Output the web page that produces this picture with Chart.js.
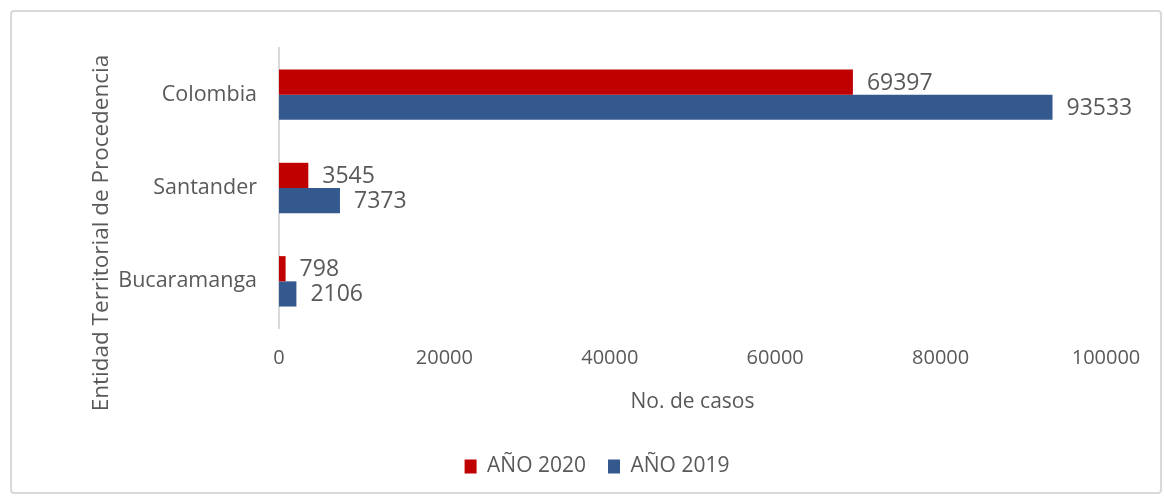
<!DOCTYPE html>
<html>
<head>
<meta charset="utf-8">
<script src="https://cdn.jsdelivr.net/npm/chart.js@4/dist/chart.umd.min.js"></script>
<style>
  html, body { margin: 0; padding: 0; background: #fff; }
  #wrap { position: relative; width: 1164px; height: 496px; }
  #frame { position: absolute; left: 10px; top: 10px; width: 1148px; height: 480px;
           border: 2px solid #d9d9d9; border-radius: 4px; pointer-events: none; }
  canvas { position: absolute; left: 0; top: 0; }
</style>
</head>
<body>
<div id="wrap">
  <canvas id="c" width="1164" height="496"></canvas>
  <div id="frame"></div>
</div>
<script>
const categories = ["Colombia", "Santander", "Bucaramanga"];
const year2020 = [69397, 3545, 798];
const year2019 = [93533, 7373, 2106];
const seriesNames = ["AÑO 2020", "AÑO 2019"];
const xTicks = [0, 20000, 40000, 60000, 80000, 100000];
const xTitle = "No. de casos";
const yTitle = "Entidad Territorial de Procedencia";

const FONT = "'Open Sans', sans-serif";
const GREY = "#595959";

const valueLabels = {
  id: "valueLabels",
  afterDatasetsDraw(chart) {
    const ctx = chart.ctx;
    ctx.save();
    ctx.font = "23px " + FONT;
    ctx.fillStyle = GREY;
    ctx.textAlign = "left";
    ctx.textBaseline = "middle";
    chart.data.datasets.forEach((ds, i) => {
      const meta = chart.getDatasetMeta(i);
      meta.data.forEach((bar, j) => {
        ctx.fillText(String(ds.data[j]), bar.x + 14, bar.y + 1);
      });
    });
    ctx.restore();
  }
};

const yAxisTitle = {
  id: "yAxisTitle",
  afterDraw(chart) {
    const ctx = chart.ctx;
    ctx.save();
    ctx.translate(102, 233);
    ctx.rotate(-Math.PI / 2);
    ctx.font = "22.5px " + FONT;
    ctx.fillStyle = GREY;
    ctx.textAlign = "center";
    ctx.textBaseline = "middle";
    ctx.fillText(yTitle, 0, 0);
    ctx.restore();
  }
};

new Chart(document.getElementById("c"), {
  type: "bar",
  data: {
    labels: categories,
    datasets: [
      { label: seriesNames[0], data: year2020, backgroundColor: "#C00000",
        categoryPercentage: 0.54, barPercentage: 1.0 },
      { label: seriesNames[1], data: year2019, backgroundColor: "#34598F",
        categoryPercentage: 0.54, barPercentage: 1.0 }
    ]
  },
  options: {
    indexAxis: "y",
    responsive: false,
    animation: false,
    layout: { padding: { left: 88, right: 58, top: 48, bottom: 9 } },
    scales: {
      x: {
        min: 0, max: 100000,
        afterBuildTicks: s => { s.ticks = xTicks.map(v => ({ value: v })); },
        afterFit: s => { s.height = 106; },
        grid: { display: false },
        border: { display: false },
        ticks: { color: GREY, font: { family: FONT, size: 20 }, padding: 10, maxRotation: 0,
                 callback: v => String(v) },
        title: { display: true, text: xTitle, color: GREY,
                 font: { family: FONT, size: 21 }, padding: { top: 0, bottom: 19 } }
      },
      y: {
        afterFit: s => { s.width = 191; },
        grid: { display: false },
        border: { display: true, color: "#d9d9d9", width: 2 },
        ticks: { color: GREY, font: { family: FONT, size: 21.5 }, padding: 14 },
        title: { display: false }
      }
    },
    plugins: {
      legend: {
        position: "bottom",
        labels: { color: GREY, font: { family: FONT, size: 21 },
                  boxWidth: 12, boxHeight: 14, padding: 22 }
      },
      tooltip: { enabled: false }
    }
  },
  plugins: [valueLabels, yAxisTitle]
});
</script>
</body>
</html>
